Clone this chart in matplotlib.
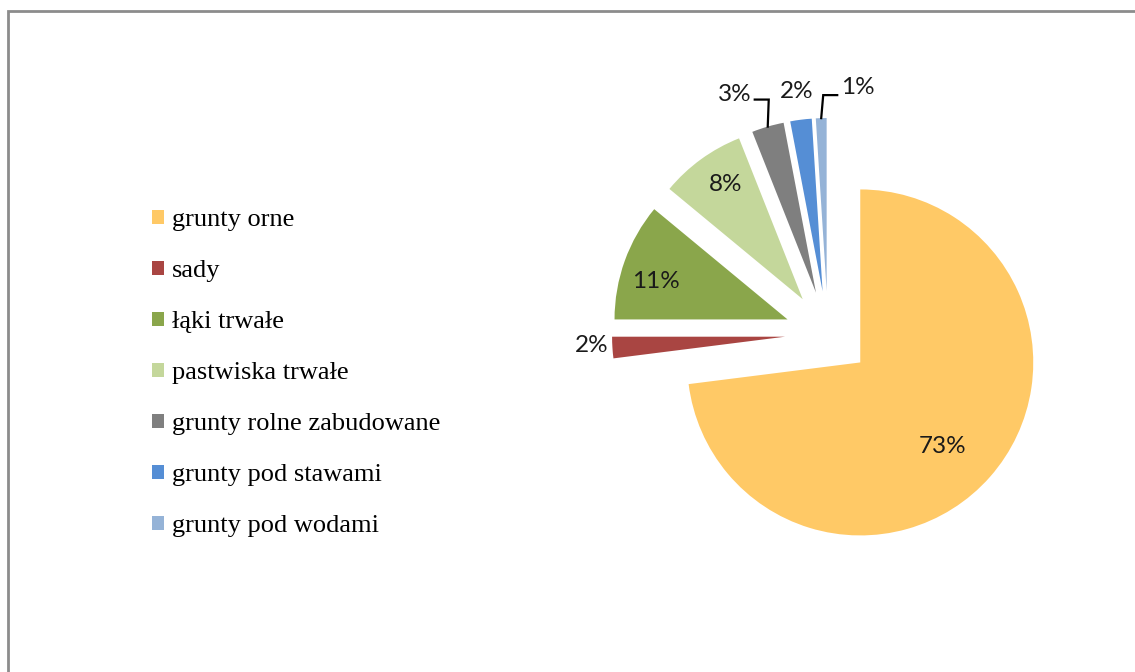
import matplotlib
matplotlib.use('Agg')
import matplotlib.pyplot as plt
from matplotlib.patches import Patch, Rectangle
from matplotlib.font_manager import FontProperties
import numpy as np

categories = ['grunty orne', 'sady', 'łąki trwałe', 'pastwiska trwałe',
              'grunty rolne zabudowane', 'grunty pod stawami', 'grunty pod wodami']
shares = [73, 2, 11, 8, 3, 2, 1]
pct_labels = ['73%', '2%', '11%', '8%', '3%', '2%', '1%']
colors = ['#FFC966', '#A94542', '#8AA64B', '#C4D79B', '#7F7F7F', '#558ED5', '#95B3D7']

W, H = 1135, 672
fig = plt.figure(figsize=(W / 100, H / 100), dpi=100)
ax = fig.add_axes([0, 0, 1, 1])
R = 173
C = (828, H - 334)
EXP = 43
wedges, _ = ax.pie(shares, colors=colors, startangle=90, counterclock=False,
                   radius=R, center=C, explode=[EXP] * len(shares),
                   wedgeprops=dict(linewidth=0))
ax.set_xlim(0, W)
ax.set_ylim(0, H)
ax.set_aspect('equal')
ax.axis('off')

pfont = dict(family='Lato', size=17.5, color='#1a1a1a')

def geom(w, frac, dang=0.0):
    mid = np.deg2rad((w.theta1 + w.theta2) / 2 + dang)
    cx, cy = w.center
    return cx + frac * w.r * np.cos(mid), cy + frac * w.r * np.sin(mid)

# inside labels: (radial fraction, angle tweak in degrees)
inside = {0: (0.68, -4), 2: (0.79, 3.5), 3: (0.80, -2)}
for i, (f, da) in inside.items():
    x, y = geom(wedges[i], f, da)
    ax.text(x, y, pct_labels[i], ha='center', va='center', **pfont)

# outside labels
px, py = geom(wedges[1], 1.0)
ax.text(px - 4, py + 2, pct_labels[1], ha='right', va='center', **pfont)

px, py = geom(wedges[4], 1.0)
ax.plot([px, px + 1, px - 13], [py, py + 27, py + 27], color='black', lw=1.6, solid_joinstyle='miter')
ax.text(px - 16, py + 32, pct_labels[4], ha='right', va='center', **pfont)

px, py = geom(wedges[5], 1.0)
ax.text(px - 4, py + 28, pct_labels[5], ha='center', va='center', **pfont)

px, py = geom(wedges[6], 1.0)
ax.plot([px, px + 2, px + 16], [py, py + 23, py + 23], color='black', lw=1.6, solid_joinstyle='miter')
ax.text(px + 20, py + 31, pct_labels[6], ha='left', va='center', **pfont)

handles = [Patch(facecolor=c, edgecolor='none') for c in colors]
fig.legend(handles, categories, loc='upper left',
           bbox_to_anchor=(152 / W, 1 - 209 / H), frameon=False,
           prop=FontProperties(family='Liberation Serif', size=19),
           handlelength=0.45, handleheight=0.45, handletextpad=0.3,
           labelspacing=1.1, borderpad=0, borderaxespad=0)

fig.patches.append(Rectangle((8 / W, -0.2), 1.5, 1 - 11 / H + 0.2,
                             transform=fig.transFigure, fill=False,
                             edgecolor='#8c8c8c', lw=2, zorder=10))

fig.savefig('out.png', dpi=100)
